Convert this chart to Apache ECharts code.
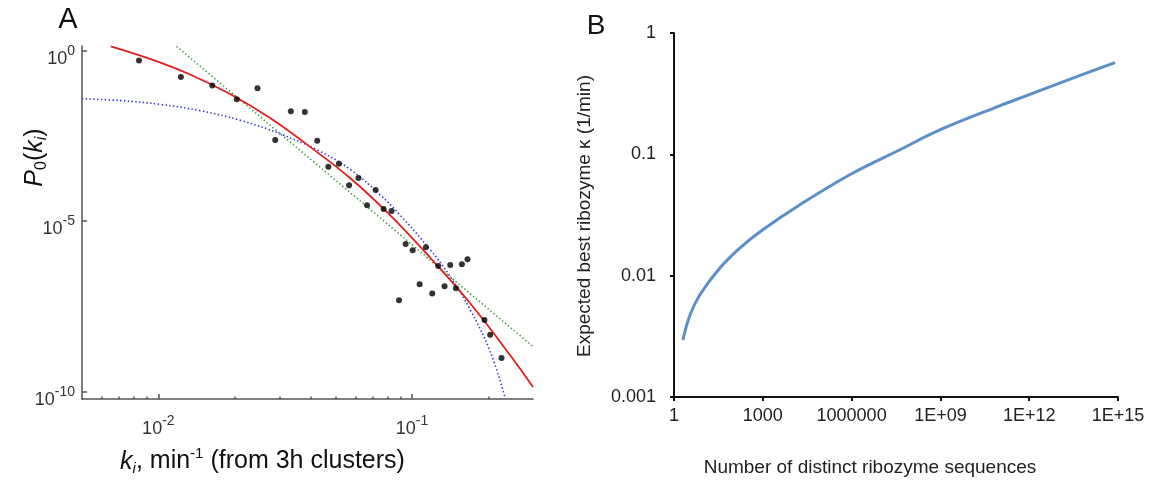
<!DOCTYPE html>
<html><head><meta charset="utf-8">
<script src="https://cdn.jsdelivr.net/npm/echarts@6/dist/echarts.min.js"></script>
<style>html,body{margin:0;padding:0;background:#fff}#c{width:1153px;height:482px}</style>
</head><body><div id="c"></div>
<script>
// ---------- Panel A data ----------
const scatterK = [0.00839,0.01227,0.01632,0.02039,0.0246,0.0333,0.0378,0.0289,0.0423,0.0468,0.0515,
  0.0565,0.0615,0.0665,0.0719,0.0773,0.0831,0.0944,0.1006,0.1135,0.0889,0.1072,0.1202,0.1269,0.1344,
  0.1415,0.149,0.1573,0.1655,0.1931,0.2034,0.2254];
const scatterP = [0.5,0.1655,0.0927,0.0368,0.0773,0.0164,0.01564,0.00234,0.00222,3.84e-4,4.71e-4,
  1.10e-4,1.80e-4,2.85e-5,8.0e-5,2.22e-5,1.94e-5,2.10e-6,1.37e-6,1.68e-6,4.73e-8,1.39e-7,7.38e-8,4.77e-7,1.22e-7,
  5.10e-7,1.06e-7,5.35e-7,7.5e-7,1.25e-8,4.56e-9,9.5e-10];
const redK = [0.006492,0.009326,0.0134,0.01926,0.02768,0.03978,0.05715,0.08215,0.118,0.1696,0.2438,0.3];
const redP = [1.3,0.5489,0.1919,0.05122,0.01016,0.001449,1.77e-4,1.445e-5,8.3e-7,3.84e-8,1.154e-9,1.355e-10];
const greenK = [0.0118,0.3];
const greenP = [1.3,2.07e-9];
const blueK = [0.005,0.007104,0.01021,0.01467,0.02109,0.03031,0.04355,0.05715,0.07502,0.08994,0.118,0.1415,0.1696,0.2034,0.233];
const blueP = [0.03807,0.0335,0.02594,0.01684,0.008822,0.003529,0.001078,3.203e-4,5.745e-5,1.453e-5,1.421e-6,2.305e-7,2.493e-8,1.471e-9,6.41e-11];
const ticksAx = [0.01,0.1];
const minorTicksAx = [0.006,0.007,0.008,0.009,0.02,0.03,0.04,0.05,0.06,0.07,0.08,0.09,0.2];
const ticksAy = [1e-10,1e-5,1];

// ---------- Panel B data ----------
const nB = [2,3.5,7.5,36,170,1000,18000,1e6,4.3e7,1e9,1e11,1e12,5e13,7.9e14];
const kB = [0.00296,0.00476,0.00696,0.01162,0.01698,0.02393,0.03844,0.0692,0.1091,0.1595,0.251,0.310,0.445,0.569];
const ticksBx = [1,1e3,1e6,1e9,1e12,0.99999e15];
const labelsBx = ['1','1000','1000000','1E+09','1E+12','1E+15'];
const ticksBy = [0.001,0.01,0.1,0.99999];
const labelsBy = ['0.001','0.01','0.1','1'];

const FF = '"Liberation Sans", Arial, Helvetica, sans-serif';
const zip = (a,b) => a.map((v,i)=>[v,b[i]]);
const nearestIdx = (arr,v) => {let bi=0,bd=1e9;arr.forEach((t,i)=>{const d=Math.abs(Math.log10(t)-Math.log10(v));if(d<bd){bd=d;bi=i;}});return bi;};

const supRich = {
  b:{fontSize:18,lineHeight:24,fontFamily:FF,color:'#333',verticalAlign:'bottom'},
  s:{fontSize:14,lineHeight:15,fontFamily:FF,color:'#333',verticalAlign:'top'}
};
const powLabel = v => '{b|10}{s|' + Math.round(Math.log10(v)) + '}';
const axA = {color:'#555',width:1.5};
const axB = {color:'#111',width:2};

const chart = echarts.init(document.getElementById('c'));
chart.setOption({
  animation:false,
  backgroundColor:'#fff',
  grid:[
    {left:82,top:46,width:451,height:353,outerBoundsMode:'none'},
    {left:674,top:33,width:444,height:364,outerBoundsMode:'none'}
  ],
  xAxis:[
    {type:'log',gridIndex:0,min:0.005,max:0.3,position:'bottom',
     axisLine:{onZero:false,lineStyle:axA},
     axisTick:{inside:true,length:5,customValues:ticksAx,lineStyle:axA},
     axisLabel:{customValues:ticksAx,formatter:powLabel,rich:supRich,margin:15},
     splitLine:{show:false},minorTick:{show:false}},
    {type:'log',gridIndex:0,min:0.005,max:0.3,position:'bottom',
     axisLine:{show:false,onZero:false},
     axisTick:{inside:true,length:2.5,customValues:minorTicksAx,lineStyle:axA},
     axisLabel:{show:false},splitLine:{show:false}},
    {type:'log',gridIndex:1,min:1,max:1e15,position:'bottom',
     axisLine:{onZero:false,lineStyle:axB},
     axisTick:{inside:false,length:4,customValues:ticksBx,lineStyle:axB},
     axisLabel:{customValues:ticksBx,formatter:v=>labelsBx[nearestIdx(ticksBx,v)],
       fontSize:18,fontFamily:FF,color:'#222',margin:10,showMaxLabel:true,showMinLabel:true},
     splitLine:{show:false}}
  ],
  yAxis:[
    {type:'log',gridIndex:0,min:6.0e-11,max:1.336,
     axisLine:{onZero:false,lineStyle:axA},
     axisTick:{inside:true,length:5,customValues:ticksAy,lineStyle:axA},
     axisLabel:{customValues:ticksAy,formatter:powLabel,rich:supRich,margin:7,padding:[11,0,0,0]},
     splitLine:{show:false}},
    {type:'log',gridIndex:1,min:0.001,max:1,
     axisLine:{onZero:false,lineStyle:axB},
     axisTick:{inside:false,length:4,customValues:ticksBy,lineStyle:axB},
     axisLabel:{customValues:ticksBy,formatter:v=>labelsBy[nearestIdx(ticksBy,v)],
       fontSize:18,fontFamily:FF,color:'#222',margin:18},
     splitLine:{show:false}}
  ],
  series:[
    {type:'line',name:'power law',xAxisIndex:0,yAxisIndex:0,data:zip(greenK,greenP),showSymbol:false,
     lineStyle:{color:'#3f9a3f',width:1.6,type:[1.4,2.4]},z:2},
    {type:'line',name:'exponential',xAxisIndex:0,yAxisIndex:0,data:zip(blueK,blueP),showSymbol:false,smooth:0.4,
     lineStyle:{color:'#3030e0',width:1.6,type:[1.4,2.4]},z:2},
    {type:'line',name:'lognormal',xAxisIndex:0,yAxisIndex:0,data:zip(redK,redP),showSymbol:false,smooth:0.4,
     lineStyle:{color:'#e41c1c',width:1.8},z:3},
    {type:'scatter',name:'data',xAxisIndex:0,yAxisIndex:0,data:zip(scatterK,scatterP),
     symbol:'circle',symbolSize:6,itemStyle:{color:'#000'},z:4},
    {type:'line',name:'expected best',xAxisIndex:2,yAxisIndex:1,data:zip(nB,kB),showSymbol:false,smooth:0.4,
     lineStyle:{color:'#5b8fc8',width:3}}
  ],
  graphic:[
    {type:'text',x:68,y:20,style:{text:'A',fontSize:29,fontFamily:FF,fill:'#111',align:'center',verticalAlign:'middle'}},
    {type:'text',x:596,y:26,style:{text:'B',fontSize:28,fontFamily:FF,fill:'#111',align:'center',verticalAlign:'middle'}},
    {type:'text',x:35,y:157.5,rotation:Math.PI/2,style:{
      text:'{i|P}{sub|0}{n|(}{i|k}{isub|i}{n|)}',align:'center',verticalAlign:'middle',
      rich:{
        i:{fontSize:25,lineHeight:30,fontStyle:'italic',fontFamily:FF,fill:'#111'},
        n:{fontSize:25,lineHeight:30,fontFamily:FF,fill:'#111'},
        sub:{fontSize:16,lineHeight:18,fontFamily:FF,fill:'#111',verticalAlign:'bottom'},
        isub:{fontSize:16,lineHeight:18,fontStyle:'italic',fontFamily:FF,fill:'#111',verticalAlign:'bottom'}
      }}},
    {type:'text',x:262.5,y:461.6,style:{
      text:'{i|k}{isub|i}{n|, min}{sup|-1}{n| (from 3h clusters)}',align:'center',verticalAlign:'middle',
      rich:{
        i:{fontSize:25,lineHeight:30,fontStyle:'italic',fontFamily:FF,fill:'#111'},
        n:{fontSize:25,lineHeight:30,fontFamily:FF,fill:'#111'},
        sup:{fontSize:15,lineHeight:20,fontFamily:FF,fill:'#111',verticalAlign:'top'},
        isub:{fontSize:15,lineHeight:18,fontStyle:'italic',fontFamily:FF,fill:'#111',verticalAlign:'bottom'}
      }}},
    {type:'text',x:584.4,y:216,rotation:Math.PI/2,style:{
      text:'Expected best ribozyme κ (1/min)',fontSize:19,fontFamily:FF,fill:'#222',align:'center',verticalAlign:'middle'}},
    {type:'text',x:870,y:468,style:{
      text:'Number of distinct ribozyme sequences',fontSize:19,fontFamily:FF,fill:'#222',align:'center',verticalAlign:'middle'}}
  ]
});
</script></body></html>
